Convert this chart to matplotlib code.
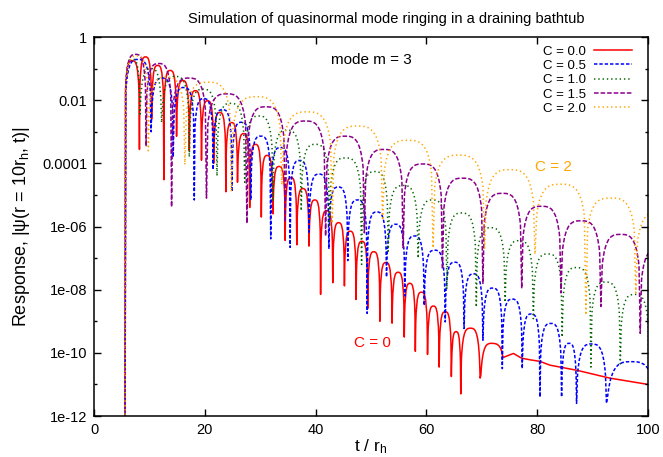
import numpy as np
import matplotlib
matplotlib.use("Agg")
import matplotlib.pyplot as plt
from matplotlib.path import Path
from matplotlib.patches import PathPatch
from matplotlib.lines import Line2D

plt.rcParams['font.family'] = ['Liberation Sans', 'DejaVu Sans']
plt.rcParams['mathtext.fontset'] = 'custom'
plt.rcParams['mathtext.rm'] = 'Liberation Sans'
plt.rcParams['mathtext.it'] = 'Liberation Sans:italic'

# readings: dip times, dip depths (log10) and arch peaks (log10)
labels = ['C = 0.0', 'C = 0.5', 'C = 1.0', 'C = 1.5', 'C = 2.0']

red_dip_t = [5.6, 8.2, 10.4, 12.6, 14.9, 17.2, 19.4, 21.6, 23.8, 25.9, 28.1, 30.2, 32.3,
             34.5, 36.6, 38.8, 40.9, 43.1, 45.2, 47.3, 49.4, 51.6, 53.8, 56.0, 58.0, 60.2,
             62.3, 64.5, 66.2, 69.7, 73.8]
red_dip_v = [-12.5, -3.56, -2.6, -4.52, -3.14, -3.6, -3.9, -4.0, -4.9, -4.6, -5.4, -5.7, -5.6,
             -6.44, -6.58, -6.62, -8.15, -7.78, -7.88, -8.31, -8.6, -9.0, -9.06, -9.5, -9.95,
             -10.05, -10.45, -10.75, -11.3, -10.8, -10.15]
red_peak_v = [-0.75, -0.63, -0.9, -1.06, -1.38, -1.7, -2.02, -2.39, -2.71, -3.06, -3.4, -3.75,
              -4.1, -4.45, -4.8, -5.16, -5.5, -5.88, -6.15, -6.47, -6.8, -7.14, -7.45, -7.8,
              -8.08, -8.52, -8.7, -9.33, -9.22, -9.7]
red_tail_t = [75.7, 77.2, 78.7, 80.5, 82.3, 87.1, 93.1, 100.0]
red_tail_v = [-10.02, -10.17, -10.22, -10.27, -10.39, -10.55, -10.8, -11.0]

blue_dip_t = [5.6, 10.3, 14.3, 18.1, 21.5, 24.9, 28.3, 31.9, 35.4, 38.8, 42.4, 45.8, 49.3,
              52.8, 56.1, 59.6, 63.4, 66.8, 70.2, 73.7, 77.3, 80.5, 84.4, 87.1, 92.5, 101.5]
blue_dip_v = [-12.5, -3.0, -3.8, -5.16, -4.2, -4.9, -5.16, -6.39, -6.66, -6.18, -6.71, -7.08,
              -8.75, -7.6, -8.2, -8.5, -9.02, -9.23, -9.6, -10.5, -10.5, -11.4, -11.4, -11.6,
              -11.6, -12.5]
blue_peak_v = [-0.71, -1.3, -1.6, -1.95, -2.3, -2.7, -3.14, -3.5, -3.91, -4.34, -4.75, -5.16,
               -5.54, -5.93, -6.3, -6.75, -7.13, -7.5, -7.95, -8.3, -8.77, -9.07, -9.7, -9.72,
               -10.28]

green_dip_t = [5.6, 8.3, 12.2, 17.2, 22.2, 27.2, 32.3, 37.4, 42.5, 48.3, 53.1, 58.5, 63.7,
               69.0, 74.2, 79.3, 84.5, 89.7, 95.0, 100.2]
green_dip_v = [-12.5, -2.44, -2.71, -3.8, -4.4, -4.6, -5.2, -5.5, -5.96, -7.2, -6.78, -7.0,
               -7.98, -8.55, -8.4, -8.92, -9.5, -10.45, -10.35, -12.0]
green_peak_v = [-0.7, -1.0, -1.25, -1.65, -2.1, -2.5, -2.95, -3.4, -3.83, -4.26, -4.7, -5.16,
                -5.57, -6.04, -6.45, -6.87, -7.3, -7.76, -8.15]

purple_dip_t = [5.6, 9.4, 14.0, 20.3, 27.6, 34.5, 41.8, 48.8, 55.8, 62.9, 70.2, 77.2, 84.3,
                91.5, 98.6, 105.7]
purple_dip_v = [-12.5, -3.46, -5.38, -5.1, -5.9, -5.86, -6.3, -6.2, -6.68, -7.35, -7.8, -7.96,
                -8.1, -8.53, -9.38, -10.0]
purple_peak_v = [-0.55, -0.84, -1.3, -1.8, -2.21, -2.66, -3.14, -3.56, -4.02, -4.47, -4.95,
                 -5.36, -5.82, -6.25, -6.7]

orange_dip_t = [5.6, 9.8, 16.4, 24.8, 33.9, 43.0, 52.1, 61.2, 70.5, 79.6, 88.8, 97.8, 106.9]
orange_dip_v = [-12.5, -3.6, -4.04, -4.9, -4.68, -5.9, -5.8, -6.68, -6.72, -6.88, -8.8, -8.1,
                -9.0]
orange_peak_v = [-0.6, -1.27, -1.43, -1.89, -2.37, -2.82, -3.27, -3.74, -4.2, -4.66, -5.1, -5.52]

colors = ['#ff0000', '#0000ff', '#006400', '#8b008b', '#ffa500']
styles = ['-', (0, (2.2, 1.3)), (0, (0.9, 1.9)), (0, (3.0, 1.3)), (0, (0.9, 1.9))]

ytick_major = [1e-12, 1e-10, 1e-8, 1e-6, 1e-4, 1e-2, 1]
ytick_minor = [1e-11, 1e-9, 1e-7, 1e-5, 1e-3, 1e-1]
ytick_text = ['1e-12', '1e-10', '1e-08', '1e-06', '0.0001', '0.01', '1']
xtick_pos = [0, 20, 40, 60, 80, 100]


def ringing_path(dip_t, dip_v, peak_v, tail_t=None, tail_v=None):
    # rounded arches between the dips, drawn as bezier curves in log space
    verts = [(dip_t[0], 10.0 ** dip_v[0])]
    codes = [Path.MOVETO]
    for i in range(len(peak_v)):
        t0, t1 = dip_t[i], dip_t[i + 1]
        d0, d1 = dip_v[i], dip_v[i + 1]
        p = peak_v[i]
        h = (t1 - t0) / 2
        tm = t0 + h
        if d0 < p - 1:
            start = t0 + 0.064 * h
            verts.append((start, 10.0 ** (p - 1)))
            codes.append(Path.LINETO)
        else:
            start = t0
        verts += [(start + 0.15 * h, 10.0 ** p), (tm - 0.4 * h, 10.0 ** p), (tm, 10.0 ** p)]
        codes += [Path.CURVE4] * 3
        if d1 < p - 1:
            end = t1 - 0.064 * h
            verts += [(tm + 0.4 * h, 10.0 ** p), (end - 0.15 * h, 10.0 ** p), (end, 10.0 ** (p - 1))]
            codes += [Path.CURVE4] * 3
            verts.append((t1, 10.0 ** d1))
            codes.append(Path.LINETO)
        else:
            verts += [(tm + 0.4 * h, 10.0 ** p), (t1 - 0.15 * h, 10.0 ** p), (t1, 10.0 ** d1)]
            codes += [Path.CURVE4] * 3
    if tail_t is not None:
        for t, v in zip(tail_t, tail_v):
            verts.append((t, 10.0 ** v))
            codes.append(Path.LINETO)
    return Path(verts, codes)


fig = plt.figure(figsize=(6.63, 4.57), dpi=100)
ax = fig.add_axes([0.1418, 0.0897, 0.8356, 0.8293])
ax.set_yscale('log')

curves = [
    (red_dip_t, red_dip_v, red_peak_v, red_tail_t, red_tail_v),
    (blue_dip_t, blue_dip_v, blue_peak_v, None, None),
    (green_dip_t, green_dip_v, green_peak_v, None, None),
    (purple_dip_t, purple_dip_v, purple_peak_v, None, None),
    (orange_dip_t, orange_dip_v, orange_peak_v, None, None),
]

handles = []
for (dt, dv, pv, tt, tv), col, ls, lab in zip(curves, colors, styles, labels):
    path = ringing_path(dt, dv, pv, tt, tv)
    patch = PathPatch(path, fill=False, edgecolor=col, lw=1.1, linestyle=ls,
                      joinstyle='round', capstyle='butt')
    ax.add_patch(patch)
    handles.append(Line2D([], [], color=col, lw=1.1, linestyle=ls))

ax.set_xlim(0, 100)
ax.set_ylim(1e-12, 1)
ax.set_xticks(xtick_pos)
ax.set_xticklabels([str(x) for x in xtick_pos])
ax.set_yticks(ytick_major)
ax.set_yticklabels(ytick_text)
ax.set_yticks(ytick_minor, minor=True)
ax.tick_params(axis='both', which='major', direction='in', length=5, width=1,
               top=True, right=True, labelsize=10.5, pad=5)
ax.tick_params(axis='y', which='minor', direction='in', length=2.5, width=1,
               left=True, right=True, labelleft=False)
for s in ax.spines.values():
    s.set_linewidth(1.1)

ax.set_xlabel(r'$\mathrm{t\ /\ r_h}$', fontsize=12.5, labelpad=0)
ax.set_ylabel(r'Response, |ψ(r = 10r$_\mathrm{h}$, t)|', fontsize=13, labelpad=7)
fig.text(0.582, 0.958, 'Simulation of quasinormal mode ringing in a draining bathtub',
         ha='center', va='center', fontsize=10.5)

ax.text(50.0, 10 ** -0.74, 'mode m = 3', ha='center', va='center', fontsize=11)
ax.text(83.0, 10 ** -4.1, 'C = 2', ha='center', va='center', fontsize=11, color='#ffa500')
ax.text(50.2, 10 ** -9.7, 'C = 0', ha='center', va='center', fontsize=11, color='#ff0000')

ax.legend(handles, labels, loc='upper right', bbox_to_anchor=(0.971, 0.978),
          frameon=False, markerfirst=False, fontsize=9.5, handlelength=2.9,
          handletextpad=0.6, labelspacing=0.16, borderaxespad=0, borderpad=0)

fig.savefig('out.png', dpi=100)
